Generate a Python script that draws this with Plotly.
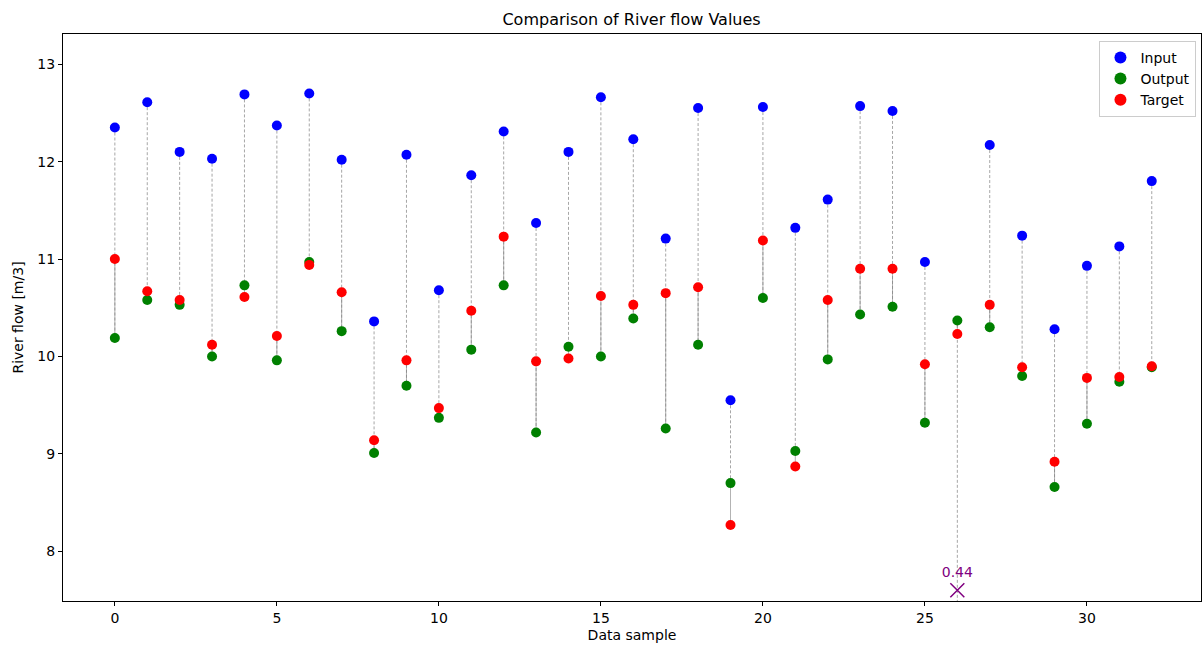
import plotly.graph_objects as go

samples = list(range(33))
input_vals = [12.35, 12.61, 12.10, 12.03, 12.69, 12.37, 12.70, 12.02, 10.36, 12.07,
              10.68, 11.86, 12.31, 11.37, 12.10, 12.66, 12.23, 11.21, 12.55, 9.55,
              12.56, 11.32, 11.61, 12.57, 12.52, 10.97, 0.44, 12.17, 11.24, 10.28,
              10.93, 11.13, 11.80]
output_vals = [10.19, 10.58, 10.53, 10.00, 10.73, 9.96, 10.97, 10.26, 9.01, 9.70,
               9.37, 10.07, 10.73, 9.22, 10.10, 10.00, 10.39, 9.26, 10.12, 8.70,
               10.60, 9.03, 9.97, 10.43, 10.51, 9.32, 10.37, 10.30, 9.80, 8.66,
               9.31, 9.74, 9.89]
target_vals = [11.00, 10.67, 10.58, 10.12, 10.61, 10.21, 10.94, 10.66, 9.14, 9.96,
               9.47, 10.47, 11.23, 9.95, 9.98, 10.62, 10.53, 10.65, 10.71, 8.27,
               11.19, 8.87, 10.58, 10.90, 10.90, 9.92, 10.23, 10.53, 9.89, 8.92,
               9.78, 9.79, 9.90]
y_min, y_max = 7.49, 13.31
outlier_marker_y = 7.6

fig = go.Figure()

# connecting lines: input -> output dashed, output -> target solid
dx, dy = [], []
sx, sy = [], []
for i, a, o, t in zip(samples, input_vals, output_vals, target_vals):
    dx += [i, i, None]
    dy += [a, o, None]
    sx += [i, i, None]
    sy += [o, t, None]
fig.add_trace(go.Scatter(x=dx, y=dy, mode="lines", showlegend=False, hoverinfo="skip",
                         line=dict(color="rgba(128,128,128,0.7)", width=1, dash="3px,2px")))
fig.add_trace(go.Scatter(x=sx, y=sy, mode="lines", showlegend=False, hoverinfo="skip",
                         line=dict(color="rgba(128,128,128,0.6)", width=1)))

fig.add_trace(go.Scatter(x=samples, y=input_vals, mode="markers", name="Input",
                         marker=dict(color="#0000ff", size=10)))
fig.add_trace(go.Scatter(x=samples, y=output_vals, mode="markers", name="Output",
                         marker=dict(color="#008000", size=10)))
fig.add_trace(go.Scatter(x=samples, y=target_vals, mode="markers", name="Target",
                         marker=dict(color="#ff0000", size=10)))

# out-of-range values marked at the bottom
ox = [i for i, a in zip(samples, input_vals) if a < y_min]
ov = [a for a in input_vals if a < y_min]
fig.add_trace(go.Scatter(x=ox, y=[outlier_marker_y] * len(ox), mode="markers+text",
                         text=[f"{v:.2f}" for v in ov], textposition="top center",
                         textfont=dict(color="#800080", size=14, family="DejaVu Sans"),
                         marker=dict(symbol="x-thin", size=14, line=dict(color="#800080", width=1.5)),
                         showlegend=False, cliponaxis=False))

axis_common = dict(showline=True, linecolor="black", linewidth=1, mirror=True,
                   ticks="outside", ticklen=4, tickcolor="black", showgrid=False,
                   zeroline=False, tickfont=dict(size=14, color="black"))
fig.update_xaxes(range=[-1.6, 33.52], tickvals=[0, 5, 10, 15, 20, 25, 30],
                 title=dict(text="Data sample", font=dict(size=14), standoff=5), **axis_common)
fig.update_yaxes(range=[y_min, y_max], tickvals=[8, 9, 10, 11, 12, 13],
                 title=dict(text="River flow [m/3]", font=dict(size=14), standoff=10), **axis_common)

fig.update_layout(
    width=1203, height=645,
    margin=dict(l=63, r=2, t=34, b=44),
    paper_bgcolor="white", plot_bgcolor="white",
    font=dict(family="DejaVu Sans", color="black", size=14),
    title=dict(text="Comparison of River flow Values", x=0.525, xanchor="center",
               y=0.97, yanchor="middle", font=dict(size=16)),
    legend=dict(x=0.996, y=0.988, xanchor="right", yanchor="top",
                bgcolor="white", bordercolor="#cccccc", borderwidth=1,
                font=dict(size=14), tracegroupgap=0, itemsizing="constant"),
)

fig.write_html("out.html")
